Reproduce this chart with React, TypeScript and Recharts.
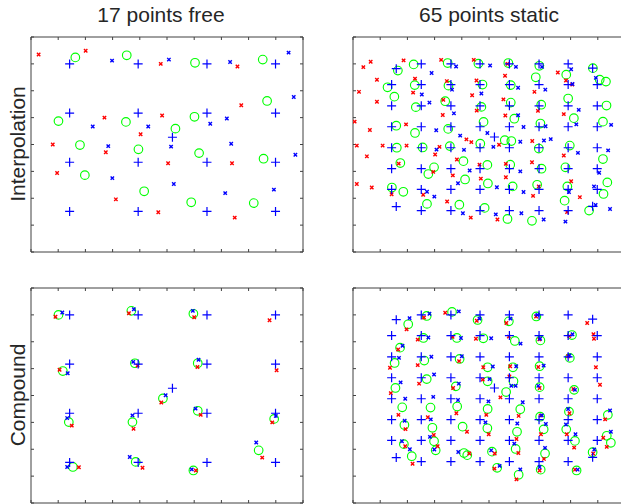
import React from "react";
import { ScatterChart, Scatter, XAxis, YAxis } from "recharts";

type Pt = [number, number];

// marker grids (same layouts in both rows)
const freePlus: Pt[] = [
  [1.42, 7.0], [3.94, 7.0], [6.47, 7.0], [8.99, 7.0],
  [1.42, 5.17], [3.94, 5.17], [6.47, 5.17], [8.99, 5.17],
  [5.2, 4.27],
  [1.42, 3.34], [3.94, 3.34], [6.47, 3.34], [8.99, 3.34],
  [1.42, 1.51], [3.94, 1.51], [6.47, 1.51], [8.99, 1.51],
];

const staticPlus: Pt[] = [
  [1.59, 6.82], [2.51, 7.0], [3.6, 7.0], [4.67, 7.0], [5.75, 7.0], [6.84, 7.0], [7.91, 7.0], [8.81, 6.84],
  [1.42, 6.23], [2.51, 6.23], [3.6, 6.23], [4.67, 6.23], [5.75, 6.23], [6.84, 6.23], [7.91, 6.23], [8.98, 6.23],
  [1.42, 5.44], [2.51, 5.44], [3.6, 5.44], [4.67, 5.44], [5.75, 5.44], [6.84, 5.44], [7.91, 5.44], [8.98, 5.44],
  [1.42, 4.66], [2.51, 4.66], [3.6, 4.66], [4.67, 4.66], [5.75, 4.66], [6.84, 4.66], [7.91, 4.66], [8.98, 4.66],
  [5.2, 4.28],
  [1.42, 3.88], [2.51, 3.88], [3.6, 3.88], [4.67, 3.88], [5.75, 3.88], [6.84, 3.88], [7.91, 3.88], [8.98, 3.88],
  [1.42, 3.1], [2.51, 3.1], [3.6, 3.1], [4.67, 3.1], [5.75, 3.1], [6.84, 3.1], [7.91, 3.1], [8.98, 3.1],
  [1.42, 2.33], [2.51, 2.33], [3.6, 2.33], [4.67, 2.33], [5.75, 2.33], [6.84, 2.33], [7.91, 2.33], [8.98, 2.33],
  [1.59, 1.69], [2.51, 1.54], [3.6, 1.54], [4.67, 1.54], [5.75, 1.54], [6.84, 1.54], [7.91, 1.54], [8.81, 1.7],
];

// Interpolation, 17 points free
const interpFreeCircle: Pt[] = [
  [1.63, 7.24], [3.52, 7.32], [6.03, 7.04], [8.52, 7.16], [8.68, 5.62], [6.01, 5.03], [3.49, 4.84],
  [1.01, 4.87], [5.31, 4.59], [1.8, 3.98], [3.95, 3.82], [6.18, 3.68], [8.55, 3.47], [1.98, 2.86],
  [4.16, 2.26], [5.89, 1.85], [8.19, 1.82],
];
const interpFreeRed: Pt[] = [
  [0.28, 7.35], [2.01, 7.49], [4.77, 7.0], [7.59, 6.9], [7.73, 5.46], [2.7, 5.0], [4.82, 5.08],
  [4.03, 4.38], [0.8, 4.0], [2.75, 3.71], [5.04, 3.3], [7.39, 3.3], [0.96, 2.94], [3.12, 1.96],
  [4.68, 1.48], [7.49, 1.28],
];
const interpFreeBlue: Pt[] = [
  [2.98, 7.12], [5.07, 7.16], [7.32, 7.07], [9.47, 7.42], [9.66, 5.77], [7.2, 4.97], [6.59, 4.77],
  [2.27, 4.67], [4.31, 4.67], [2.84, 3.94], [5.15, 3.92], [7.36, 4.03], [9.72, 3.62], [2.99, 2.75],
  [5.25, 2.53], [7.14, 2.19], [8.93, 2.32],
];

// Interpolation, 65 points static
const interpStaticCircle: Pt[] = [
  [1.65, 6.75], [2.23, 6.98], [3.48, 7.03], [4.61, 7.01], [1.27, 6.13], [2.27, 6.21], [3.51, 6.19],
  [4.76, 6.23], [1.52, 5.78], [2.31, 5.39], [3.39, 5.61], [4.72, 5.4], [1.59, 4.7], [2.28, 4.43],
  [3.5, 4.58], [4.8, 4.84],
  [5.71, 7.03], [6.85, 6.93], [6.72, 6.5], [7.84, 6.6], [8.82, 6.84], [9.07, 6.41], [9.3, 6.34],
  [5.8, 6.21], [5.8, 5.56], [6.92, 5.48], [7.91, 5.71], [9.32, 5.45], [5.93, 4.96], [6.89, 4.78],
  [8.12, 4.98], [9.19, 4.85], [5.58, 4.16], [5.82, 4.13],
  [1.61, 3.88], [2.56, 3.89], [3.56, 3.94], [4.68, 4.03], [1.74, 3.31], [2.77, 2.9], [2.98, 3.15],
  [4.06, 3.38], [4.94, 3.24], [4.12, 2.7], [4.96, 2.55], [1.43, 2.4], [1.85, 2.24], [2.72, 1.79],
  [3.91, 1.76], [4.84, 1.64],
  [6.83, 3.85], [7.97, 3.96], [9.19, 3.46], [5.78, 3.25], [6.93, 3.1], [7.81, 3.15], [5.87, 2.44],
  [6.77, 2.5], [7.88, 2.44], [9.35, 2.59], [9.21, 2.16], [7.78, 1.91], [8.68, 1.54], [5.68, 1.23],
  [6.58, 1.16],
];
const interpStaticRed: Pt[] = [
  [0.38, 6.88], [0.65, 7.08], [1.86, 7.13], [3.24, 7.15], [4.44, 7.15], [0.88, 6.41], [2.28, 6.45],
  [3.45, 6.36], [4.54, 6.38], [0.22, 5.96], [2.21, 5.93], [0.88, 5.59], [3.32, 5.66], [4.38, 5.83],
  [4.55, 5.26], [3.3, 5.1], [0.06, 4.85], [0.62, 4.54], [1.95, 4.75], [4.17, 4.19], [4.35, 4.09],
  [5.68, 7.0], [5.59, 6.56], [7.53, 6.68], [7.83, 6.38], [8.06, 6.23], [6.67, 5.96], [5.53, 5.68],
  [6.8, 5.25], [7.75, 5.13], [5.6, 5.08], [6.59, 4.13],
  [0.14, 3.96], [1.09, 3.96], [1.97, 3.96], [0.51, 3.56], [3.18, 3.91], [1.68, 3.29], [3.02, 3.63],
  [3.82, 3.44], [2.95, 2.98], [3.67, 2.85], [4.65, 3.25], [4.7, 2.73], [0.14, 2.53], [0.69, 2.4],
  [1.42, 2.15], [2.58, 2.13], [3.46, 1.88], [4.33, 1.28],
  [5.37, 3.99], [7.75, 3.59], [5.62, 3.28], [6.58, 3.34], [5.62, 2.78], [6.83, 2.44], [8.02, 2.63],
  [6.62, 2.09], [8.34, 2.04], [7.87, 1.49], [5.31, 1.21],
];
const interpStaticBlue: Pt[] = [
  [3.79, 6.9], [2.89, 6.66], [2.53, 5.86], [2.81, 5.56], [3.71, 5.16], [4.72, 5.9], [3.06, 4.53],
  [3.94, 4.33], [4.94, 4.43], [5.04, 6.94], [3.64, 6.04],
  [5.99, 6.89], [6.95, 6.89], [8.02, 6.8], [6.07, 6.11], [7.07, 6.04], [8.07, 6.25], [6.07, 5.09],
  [8.3, 5.29], [6.27, 4.65], [7.08, 4.68], [8.21, 4.75], [9.49, 4.73], [6.15, 4.1], [7.02, 4.15],
  [7.27, 4.2], [8.93, 6.48],
  [3.07, 3.81], [4.08, 3.8], [4.29, 3.03], [3.86, 2.56], [2.72, 2.24], [2.99, 2.06], [4.04, 1.44],
  [5.16, 3.91], [8.27, 3.69], [9.38, 3.78], [6.15, 3.0], [9.05, 2.95], [5.29, 2.41], [6.27, 2.23],
  [7.94, 2.23], [8.86, 2.44], [8.92, 1.75], [9.45, 1.6], [5.25, 1.4], [6.19, 1.44], [7.01, 1.21],
  [7.81, 1.13],
];

// Compound, 17 points free
const compFreeCircle: Pt[] = [
  [1.01, 7.0], [3.69, 7.15], [5.97, 7.04], [1.17, 4.91], [3.82, 5.2], [6.13, 5.2], [4.85, 3.89],
  [1.39, 3.01], [3.73, 3.01], [6.13, 3.43], [8.94, 3.13], [1.54, 1.34], [3.85, 1.53], [5.97, 1.21],
  [8.37, 1.96],
];
const compFreeRed: Pt[] = [
  [0.9, 6.93], [3.6, 7.06], [6.0, 6.91], [8.77, 6.8], [1.05, 4.96], [3.92, 5.11], [6.12, 5.06],
  [9.03, 4.94], [4.79, 3.74], [1.5, 2.88], [3.77, 2.76], [6.24, 3.28], [8.87, 3.0], [1.76, 1.33],
  [4.1, 1.31], [6.06, 1.21], [8.5, 1.69],
];
const compFreeBlue: Pt[] = [
  [1.15, 7.09], [3.78, 7.21], [5.95, 7.15], [3.76, 5.25], [6.16, 5.33], [1.35, 4.83], [4.95, 4.01],
  [1.33, 3.16], [3.73, 3.26], [6.05, 3.51], [9.0, 3.24], [1.33, 1.34], [3.63, 1.71], [5.91, 1.25],
  [8.28, 2.25],
];

// Compound, 65 points static
const compStaticCircle: Pt[] = [
  [2.03, 6.65], [2.71, 6.96], [3.64, 7.11], [4.58, 6.81], [5.73, 6.76], [6.74, 6.94],
  [1.73, 5.78], [2.59, 6.14], [3.82, 6.14], [4.79, 6.13], [5.95, 6.03], [6.89, 6.05], [8.05, 6.25],
  [1.53, 5.21], [2.62, 5.3], [3.92, 5.36], [4.95, 5.05], [5.88, 5.05], [6.86, 5.09], [7.97, 5.4],
  [1.56, 4.28], [2.71, 4.61], [3.78, 4.34], [4.95, 4.53], [5.9, 4.53], [6.86, 4.31], [8.13, 4.21], [5.63, 4.13],
  [1.81, 3.56], [2.85, 3.55], [3.83, 3.59], [4.95, 3.5], [6.15, 3.49], [7.94, 3.4],
  [1.89, 2.9], [2.92, 2.8], [4.03, 2.84], [4.94, 2.78], [6.03, 2.65], [6.88, 3.21], [7.01, 2.74], [7.84, 2.74], [9.37, 3.28],
  [1.87, 2.19], [2.98, 2.3], [3.04, 1.96], [5.98, 2.01], [8.16, 2.31], [9.33, 2.5], [9.48, 2.24],
  [2.16, 1.74], [4.08, 1.86], [4.2, 1.78], [5.11, 1.91], [7.06, 1.84], [6.9, 1.24], [8.22, 1.21],
  [8.81, 1.89], [5.3, 1.31], [6.09, 1.05],
];
const compStaticRed: Pt[] = [
  [1.97, 6.46], [2.61, 6.9], [3.39, 7.08], [4.55, 6.78], [5.64, 6.7], [6.73, 6.94], [8.61, 6.7],
  [1.66, 5.71], [2.38, 6.08], [3.66, 6.18], [4.52, 6.11], [5.73, 6.19], [6.85, 6.09], [7.95, 6.21], [8.84, 6.28], [8.86, 6.11],
  [1.36, 5.03], [2.38, 5.13], [3.9, 5.28], [4.79, 5.05], [5.78, 5.09], [6.81, 5.06], [7.91, 5.46], [8.93, 5.05],
  [1.39, 4.09], [2.43, 4.44], [3.68, 4.28], [4.77, 4.59], [5.75, 4.71], [6.86, 4.28], [8.1, 4.24], [9.08, 4.4], [5.42, 3.93],
  [1.67, 3.28], [2.75, 3.19], [3.8, 3.34], [4.9, 3.28], [6.09, 3.24], [7.96, 3.34], [6.9, 3.25],
  [1.93, 2.75], [4.19, 2.65], [4.99, 2.56], [6.01, 2.38], [6.91, 2.56], [7.86, 2.56], [9.27, 3.11], [2.97, 2.53],
  [1.92, 2.11], [3.11, 2.11], [6.08, 1.86], [8.13, 2.06], [9.2, 2.43], [9.33, 2.09],
  [2.19, 1.46], [4.28, 1.84], [5.21, 1.84], [7.02, 1.64], [6.86, 1.21], [8.16, 1.24], [8.83, 1.84], [5.2, 1.28], [6.01, 0.88],
];
const compStaticBlue: Pt[] = [
  [2.08, 6.88], [2.81, 7.04], [3.89, 7.13], [4.65, 6.86], [5.79, 6.86], [6.78, 7.0],
  [1.82, 5.85], [2.77, 6.16], [3.97, 6.14], [5.08, 6.13], [6.16, 5.93], [6.88, 6.11], [8.07, 6.28],
  [1.69, 5.4], [2.88, 5.44], [4.0, 5.46], [5.14, 5.08], [6.0, 5.09], [7.01, 5.11], [7.96, 5.49],
  [1.75, 4.49], [2.98, 4.78], [3.89, 4.44], [5.02, 4.61], [5.82, 4.36], [5.98, 4.36], [6.81, 4.36], [8.16, 4.21],
  [1.92, 3.88], [2.95, 3.95], [3.86, 3.83], [4.98, 3.78], [6.24, 3.75], [7.91, 3.5],
  [1.9, 3.06], [2.86, 3.11], [4.87, 3.0], [6.04, 2.96], [6.94, 3.26], [7.09, 2.94], [7.83, 2.92], [9.45, 3.44],
  [1.8, 2.3], [2.83, 2.46], [2.99, 1.99], [5.93, 2.21], [8.18, 2.56], [9.48, 2.65],
  [2.09, 2.0], [3.87, 1.9], [5.08, 1.96], [7.06, 2.05], [6.86, 1.34], [8.26, 1.24], [8.87, 1.99], [5.39, 1.38], [6.15, 1.25],
];

const xTicks = [0, 1, 2, 3, 4, 5, 6, 7, 8, 9, 10];
const yTicks = [0, 1, 2, 3, 4, 5, 6, 7, 8];

const colTitles = ["17 points free", "65 points static"];
const rowTitles = ["Interpolation", "Compound"];

const FONT = "'Liberation Sans', Arial, Helvetica, sans-serif";
const AXIS = "#404040";
const PW = 270;
const PH = 213;
const PAD = 10;

const toXY = (pts: Pt[]) => pts.map(([x, y]) => ({ x, y }));

// tick labels are not shown, only the inward tick lines
const NoLabel = () => <g />;

const PlusMark = (p: any) => (
  <path
    d={`M${p.cx - 4.5},${p.cy}H${p.cx + 4.5}M${p.cx},${p.cy - 4.5}V${p.cy + 4.5}`}
    stroke="#0000ff"
    strokeWidth={1.2}
    fill="none"
  />
);
const CircleMark = (p: any) => (
  <circle cx={p.cx} cy={p.cy} r={4.3} stroke="#00ff00" strokeWidth={1.15} fill="none" />
);
const crossMark = (color: string) => (p: any) => (
  <path
    d={`M${p.cx - 1.7},${p.cy - 1.7}L${p.cx + 1.7},${p.cy + 1.7}M${p.cx - 1.7},${p.cy + 1.7}L${p.cx + 1.7},${p.cy - 1.7}`}
    stroke={color}
    strokeWidth={1.4}
    fill="none"
  />
);
const RedX = crossMark("#ff0000");
const BlueX = crossMark("#0000ff");

interface PanelProps {
  left: number;
  top: number;
  plus: Pt[];
  circles: Pt[];
  red: Pt[];
  blue: Pt[];
}

function Panel({ left, top, plus, circles, red, blue }: PanelProps) {
  const axisCommon = {
    mirror: true,
    tick: NoLabel,
    tickLine: { stroke: AXIS, strokeWidth: 1 },
    tickSize: 3,
    stroke: AXIS,
    allowDataOverflow: true,
    interval: 0 as const,
  };
  return (
    <div style={{ position: "absolute", left: left - PAD, top: top - PAD }}>
      <ScatterChart
        width={PW + 2 * PAD}
        height={PH + 2 * PAD}
        margin={{ top: PAD - 1, right: PAD - 1, bottom: PAD - 1, left: PAD - 1 }}
      >
        <XAxis xAxisId="b" type="number" dataKey="x" domain={[0, 10]} ticks={xTicks} orientation="bottom" height={1} {...axisCommon} />
        <XAxis xAxisId="t" type="number" dataKey="x" domain={[0, 10]} ticks={xTicks} orientation="top" height={1} {...axisCommon} />
        <YAxis yAxisId="l" type="number" dataKey="y" domain={[0, 8]} ticks={yTicks} orientation="left" width={1} {...axisCommon} />
        <YAxis yAxisId="r" type="number" dataKey="y" domain={[0, 8]} ticks={yTicks} orientation="right" width={1} {...axisCommon} />
        <Scatter xAxisId="b" yAxisId="l" data={toXY(circles)} shape={CircleMark} isAnimationActive={false} />
        <Scatter xAxisId="b" yAxisId="l" data={toXY(red)} shape={RedX} isAnimationActive={false} />
        <Scatter xAxisId="b" yAxisId="l" data={toXY(blue)} shape={BlueX} isAnimationActive={false} />
        <Scatter xAxisId="b" yAxisId="l" data={toXY(plus)} shape={PlusMark} isAnimationActive={false} />
      </ScatterChart>
    </div>
  );
}

export default function App() {
  return (
    <div
      style={{
        position: "absolute",
        left: 0,
        top: 0,
        width: 621,
        height: 504,
        overflow: "hidden",
        background: "#fff",
      }}
    >
      <svg width={621} height={504} style={{ position: "absolute", left: 0, top: 0 }}>
        <g fontFamily={FONT} fontSize={21} fill="#262626" textAnchor="middle">
          <text x={161} y={22}>{colTitles[0]}</text>
          <text x={489} y={22}>{colTitles[1]}</text>
          <text transform="translate(25,144) rotate(-90)">{rowTitles[0]}</text>
          <text transform="translate(25,395) rotate(-90)">{rowTitles[1]}</text>
        </g>
      </svg>
      <Panel left={32} top={38} plus={freePlus} circles={interpFreeCircle} red={interpFreeRed} blue={interpFreeBlue} />
      <Panel left={354} top={38} plus={staticPlus} circles={interpStaticCircle} red={interpStaticRed} blue={interpStaticBlue} />
      <Panel left={32} top={289} plus={freePlus} circles={compFreeCircle} red={compFreeRed} blue={compFreeBlue} />
      <Panel left={354} top={289} plus={staticPlus} circles={compStaticCircle} red={compStaticRed} blue={compStaticBlue} />
    </div>
  );
}
